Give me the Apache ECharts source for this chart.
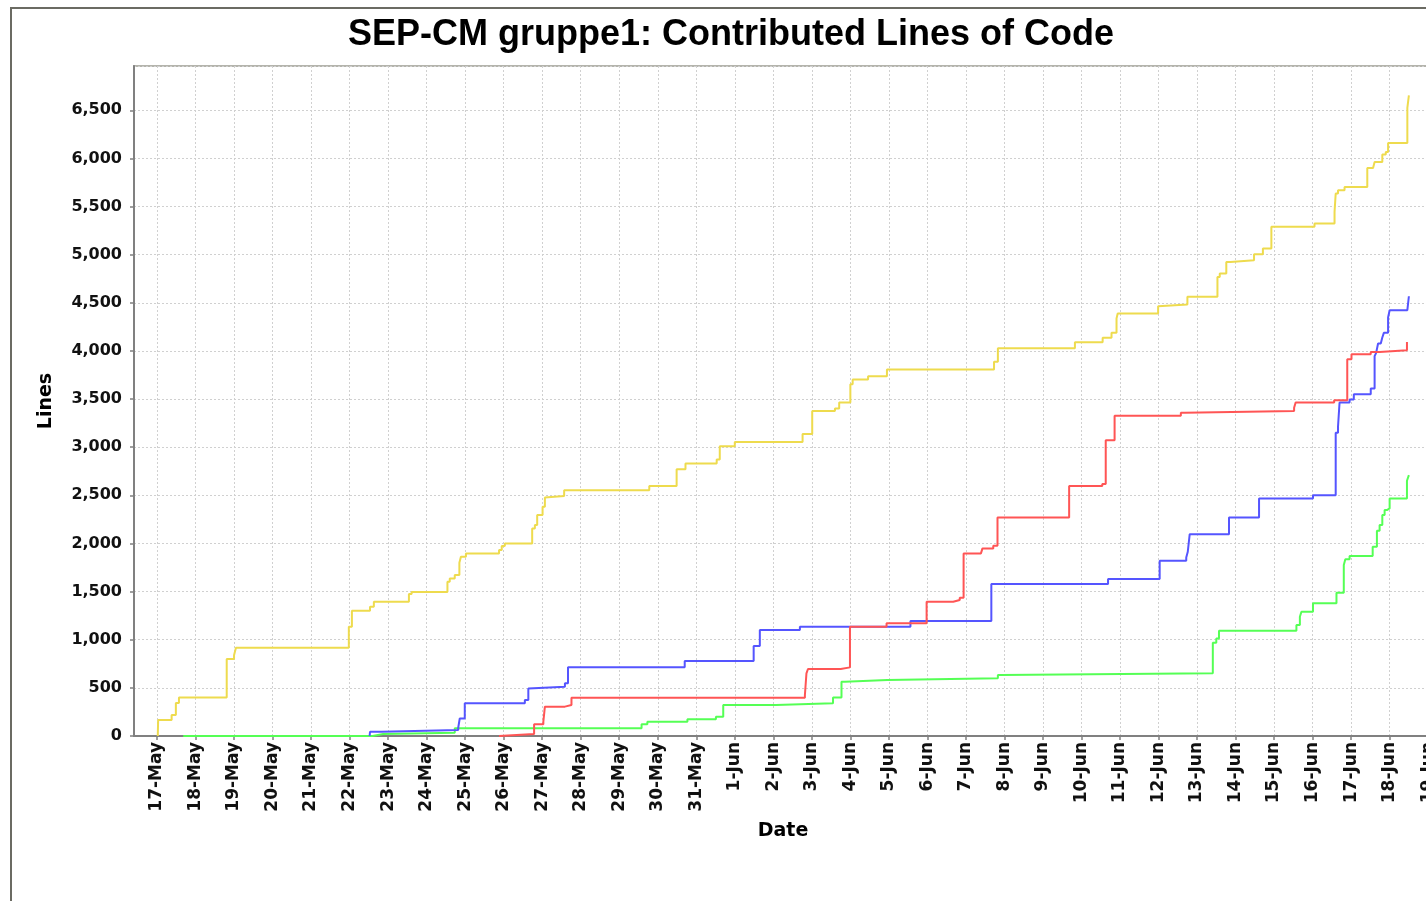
<!DOCTYPE html>
<html>
<head>
<meta charset="utf-8">
<title>SEP-CM gruppe1: Contributed Lines of Code</title>
<script src="https://cdn.jsdelivr.net/npm/echarts@6/dist/echarts.min.js"></script>
<style>
    html, body {
        margin: 0;
        padding: 0;
        width: 1426px;
        height: 901px;
        overflow: hidden;
        background: #fff;
    }
    .frame {
        position: absolute;
        left: 10px;
        top: 7px;
        width: 1480px;
        height: 1000px;
        border: 2px solid #6b6b63;
    }
    #chart {
        position: absolute;
        left: 0;
        top: 0;
        width: 1462px;
        height: 901px;
    }
</style>
</head>
<body>
<div class="frame"></div>
<div id="chart"></div>
<script>
// day offsets are counted from 17-May 00:00
const START = new Date(2009, 4, 17).getTime();
const DAY = 24 * 3600 * 1000;

// [day offset, cumulative lines]
const yellowLines = [[0.02,0],[0.03,166],[0.38,218],[0.49,343],[0.57,400],[1.81,800],[2.00,840],[2.05,917],
    [4.98,1135],[5.06,1300],[5.53,1342],[5.63,1394],[6.54,1474],[6.61,1495],[7.54,1602],[7.60,1637],[7.73,1672],
    [7.85,1800],[7.89,1862],[8.02,1897],[8.88,1931],[8.95,1973],[9.03,2000],[9.74,2156],[9.81,2191],[9.87,2295],
    [10.01,2381],[10.07,2478],[10.11,2492],[10.57,2554],[12.78,2596],[13.49,2772],[13.72,2831],[14.53,2873],
    [14.61,3011],[15.00,3053],[16.76,3136],[17.01,3375],[17.60,3402],[17.71,3465],[18.00,3655],[18.06,3704],
    [18.46,3738],[18.95,3807],[21.73,3887],[21.83,4029],[23.83,4090],[24.55,4136],[24.78,4188],[24.91,4337],
    [24.94,4389],[25.99,4465],[26.03,4482],[26.75,4562],[27.53,4769],[27.59,4804],[27.76,4925],[27.87,4943],
    [28.48,5005],[28.71,5064],[28.93,5289],[30.05,5324],[30.57,5445],[30.60,5635],[30.66,5669],[30.83,5704],
    [31.42,5901],[31.57,5919],[31.61,5963],[31.81,6040],[31.90,6067],[31.96,6161],[32.46,6524],[32.50,6656]];

const redLines = [[8.88,0],[8.90,20],[9.79,121],[10.03,149],[10.07,305],[10.59,322],[10.76,398],[16.82,426],
    [16.86,651],[16.90,696],[17.75,713],[17.99,1135],[18.94,1170],[19.98,1394],[20.67,1412],[20.84,1436],
    [20.94,1897],[21.39,1914],[21.43,1949],[21.71,1976],[21.82,2271],[23.68,2596],[24.54,2617],[24.63,3073],
    [24.86,3326],[26.58,3357],[26.68,3375],[29.52,3409],[29.56,3465],[30.56,3489],[30.90,3914],[31.01,3966],
    [31.51,3990],[31.74,4008],[32.45,4094]];

const blueLines = [[5.52,0],[5.53,44],[5.83,62],[7.82,86],[7.86,183],[7.99,339],[9.55,374],[9.64,494],
    [9.68,512],[10.59,547],[10.67,713],[13.70,779],[15.49,934],[15.65,1101],[16.69,1135],[19.56,1194],
    [21.66,1578],[24.69,1630],[26.03,1820],[26.72,1855],[26.76,1914],[26.81,2097],[27.83,2271],[28.61,2468],
    [30.01,2502],[30.60,3149],[30.66,3212],[30.70,3465],[30.96,3496],[31.07,3551],[31.51,3610],[31.61,3946],
    [31.65,3980],[31.70,4077],[31.77,4094],[31.81,4140],[31.85,4188],[31.96,4348],[32.00,4423],[32.46,4440],
    [32.50,4568]];

const greenLines = [[0.68,0],[5.60,20],[5.87,35],[7.73,80],[12.58,121],[12.73,149],[13.77,173],[14.51,200],
    [14.70,322],[16.07,339],[17.55,401],[17.77,564],[17.86,581],[18.96,599],[21.83,633],[21.92,651],
    [27.41,969],[27.50,1014],[27.57,1093],[29.58,1153],[29.67,1239],[29.71,1291],[30.01,1378],[30.62,1488],
    [30.81,1776],[30.85,1835],[30.96,1869],[31.56,1966],[31.67,2132],[31.74,2191],[31.81,2295],[31.87,2347],
    [31.93,2364],[32.00,2468],[32.45,2651],[32.50,2710]];

const seriesList = [
    { name: 'yellow', color: '#eedb4e', data: yellowLines },
    { name: 'green', color: '#55ff55', data: greenLines },
    { name: 'blue', color: '#5555ff', data: blueLines },
    { name: 'red', color: '#ff5555', data: redLines }
];

const chart = echarts.init(document.getElementById('chart'));

const gridLine = { color: '#d0d0d0', type: [2, 2], width: 1 };
const axisGray = '#808080';
const labelFont = 'DejaVu Sans';

const option = {
    animation: false,
    title: {
        text: 'SEP-CM gruppe1: Contributed Lines of Code',
        left: 'center',
        top: 12,
        textStyle: { fontFamily: 'Liberation Sans', fontWeight: 'bold', fontSize: 36, color: '#000' }
    },
    grid: {
        left: 134, top: 66, right: 30, bottom: 165,
        show: true, borderColor: '#b4b4ac', borderWidth: 2
    },
    xAxis: {
        type: 'time',
        min: START - 0.597 * DAY,
        max: START + 33.1 * DAY,
        minInterval: DAY,
        maxInterval: DAY,
        splitNumber: 40,
        name: 'Date',
        nameLocation: 'middle',
        nameGap: 86,
        nameTextStyle: { fontFamily: labelFont, fontWeight: 'bold', fontSize: 19, color: '#000' },
        axisLine: { show: true, lineStyle: { color: axisGray, width: 2 } },
        axisTick: { show: true, length: 4, lineStyle: { color: axisGray, width: 1.5 } },
        axisLabel: {
            rotate: 90, margin: 6, interval: 0, hideOverlap: false,
            fontFamily: labelFont, fontWeight: 'bold', fontSize: 17, color: '#111',
            formatter: '{d}-{MMM}',
            showMinLabel: false, showMaxLabel: false
        },
        splitLine: { show: true, lineStyle: gridLine }
    },
    yAxis: {
        type: 'value',
        min: 0, max: 6960, interval: 500,
        name: 'Lines',
        nameLocation: 'middle',
        nameGap: 78,
        nameTextStyle: { fontFamily: labelFont, fontWeight: 'bold', fontSize: 19, color: '#000' },
        axisLine: { show: true, lineStyle: { color: axisGray, width: 2 } },
        axisTick: { show: true, length: 4, lineStyle: { color: axisGray, width: 1.5 } },
        axisLabel: {
            margin: 12, fontFamily: labelFont, fontWeight: 'bold', fontSize: 16, color: '#111',
            formatter: v => v.toLocaleString('en-US'),
            showMaxLabel: false
        },
        splitLine: { show: true, lineStyle: gridLine }
    },
    series: seriesList.map(s => ({
        name: s.name,
        type: 'line',
        step: 'end',
        showSymbol: false,
        symbol: 'none',
        color: s.color,
        lineStyle: { color: s.color, width: 2 },
        data: s.data.map(p => [START + p[0] * DAY, p[1]])
    }))
};

chart.setOption(option);
</script>
</body>
</html>
